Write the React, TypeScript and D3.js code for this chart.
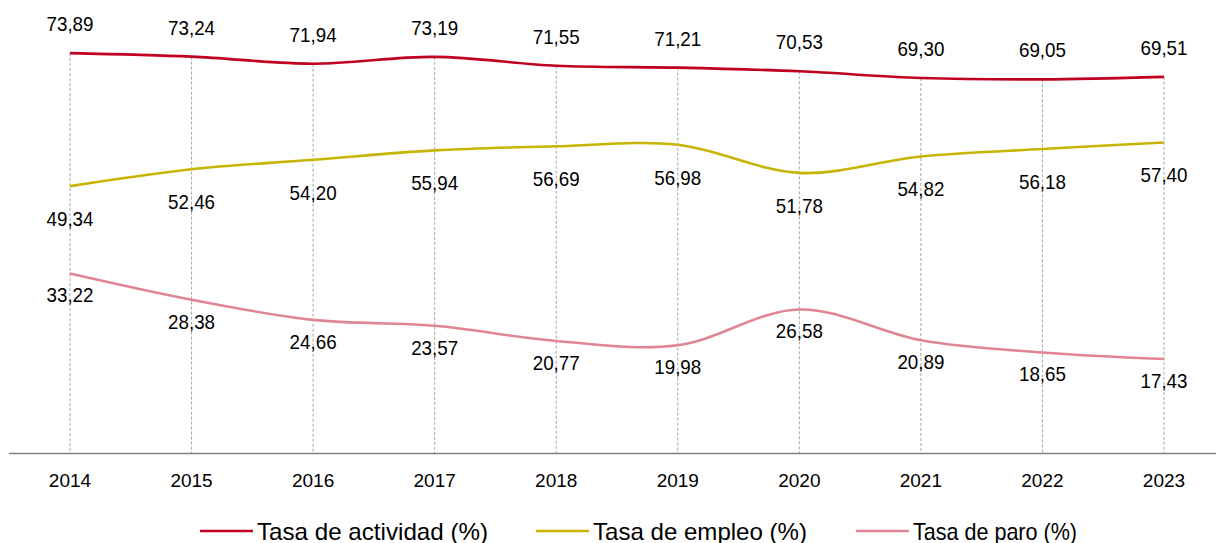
import React from "react";
import * as d3 from "d3";

const years = ["2014", "2015", "2016", "2017", "2018", "2019", "2020", "2021", "2022", "2023"];
const actividad = [73.89, 73.24, 71.94, 73.19, 71.55, 71.21, 70.53, 69.3, 69.05, 69.51];
const empleo = [49.34, 52.46, 54.2, 55.94, 56.69, 56.98, 51.78, 54.82, 56.18, 57.4];
const paro = [33.22, 28.38, 24.66, 23.57, 20.77, 19.98, 26.58, 20.89, 18.65, 17.43];
const seriesNames = ["Tasa de actividad (%)", "Tasa de empleo (%)", "Tasa de paro (%)"];
const colors = ["#C00020", "#C8B400", "#E08594"];

const W = 1216;
const H = 543;
const FONT = "'Liberation Sans', Arial, sans-serif";

export default function App() {
  const x = d3.scalePoint<string>().domain(years).range([70, 1164]);
  const y = d3.scaleLinear().domain([0, 80]).range([453.5, 20]);
  const line = d3
    .line<number>()
    .x((_, i) => x(years[i]) as number)
    .y((d) => y(d))
    .curve(d3.curveCardinal.tension(0));
  const fmt = (v: number) => v.toFixed(2).replace(".", ",");
  const series = [actividad, empleo, paro];
  const labelOffsets = [-22, 40, 29];
  const legendX = [200, 536, 856];
  const legendLen = [231, 214, 164];

  return (
    <svg width={W} height={H} style={{ position: "absolute", left: 0, top: 0, background: "#fff" }} fontFamily={FONT}>
      {years.map((yr, i) => (
        <line
          key={"g" + yr}
          x1={x(yr)}
          x2={x(yr)}
          y1={y(actividad[i])}
          y2={y(0)}
          stroke="#A6A6A6"
          strokeWidth={1}
          strokeDasharray="3,2"
        />
      ))}
      <line x1={9} x2={W} y1={y(0)} y2={y(0)} stroke="#808080" strokeWidth={1.3} />
      {years.map((yr) => (
        <text key={"t" + yr} x={x(yr)} y={y(0) + 33} textAnchor="middle" fontSize={19} fill="#000">
          {yr}
        </text>
      ))}
      {series.map((s, k) => (
        <path key={"p" + k} d={line(s) || ""} fill="none" stroke={colors[k]} strokeWidth={2.6} />
      ))}
      {series.map((s, k) =>
        s.map((v, i) => (
          <text
            key={"l" + k + "-" + i}
            x={(x(years[i]) as number) - 23.5}
            y={y(v) + labelOffsets[k]}
            fontSize={21}
            textLength={47}
            lengthAdjust="spacingAndGlyphs"
            fill="#000"
          >
            {fmt(v)}
          </text>
        ))
      )}
      {seriesNames.map((n, k) => (
        <g key={"lg" + k}>
          <line x1={legendX[k]} x2={legendX[k] + 53} y1={531} y2={531} stroke={colors[k]} strokeWidth={2.6} />
          <text
            x={legendX[k] + 57}
            y={539.5}
            fontSize={24}
            textLength={legendLen[k]}
            lengthAdjust="spacingAndGlyphs"
            fill="#000"
          >
            {n}
          </text>
        </g>
      ))}
    </svg>
  );
}
